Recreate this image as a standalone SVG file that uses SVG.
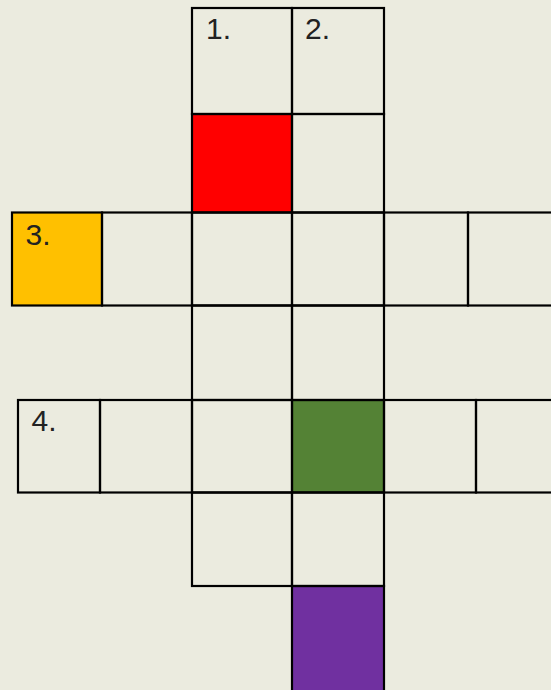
<svg xmlns="http://www.w3.org/2000/svg" width="551" height="690" viewBox="0 0 551 690">
<style>
.c{fill:none;stroke:#000;stroke-width:2.2}
.t{font-family:"Liberation Sans",Arial,sans-serif;font-size:30px;fill:#222}
</style>
<rect width="551" height="690" fill="#EBEBDF"/>
<g id="fills">
<rect x="192" y="114" width="100" height="98" fill="#FF0000"/>
<rect x="12" y="212.5" width="90" height="93" fill="#FFC000"/>
<rect x="292" y="400" width="92" height="92.5" fill="#548235"/>
<rect x="292" y="586" width="92" height="110" fill="#7030A0"/>
</g>
<g id="col1">
<rect class="c" x="192" y="8" width="100" height="106"/>
<rect class="c" x="192" y="114" width="100" height="98.5"/>
<rect class="c" x="192" y="305.5" width="100" height="94.5"/>
<rect class="c" x="192" y="492.5" width="100" height="93.5"/>
</g>
<g id="col2">
<rect class="c" x="292" y="8" width="92" height="106"/>
<rect class="c" x="292" y="114" width="92" height="98.5"/>
<rect class="c" x="292" y="305.5" width="92" height="94.5"/>
<rect class="c" x="292" y="492.5" width="92" height="93.5"/>
<rect class="c" x="292" y="586" width="92" height="110"/>
</g>
<g id="row3">
<rect class="c" x="12" y="212.5" width="90" height="93"/>
<rect class="c" x="102" y="212.5" width="90" height="93"/>
<rect class="c" x="192" y="212.5" width="100" height="93"/>
<rect class="c" x="292" y="212.5" width="92" height="93"/>
<rect class="c" x="384" y="212.5" width="84" height="93"/>
<rect class="c" x="468" y="212.5" width="90" height="93"/>
</g>
<g id="row5">
<rect class="c" x="18" y="400" width="82" height="92.5"/>
<rect class="c" x="100" y="400" width="92" height="92.5"/>
<rect class="c" x="192" y="400" width="100" height="92.5"/>
<rect class="c" x="292" y="400" width="92" height="92.5"/>
<rect class="c" x="384" y="400" width="92" height="92.5"/>
<rect class="c" x="476" y="400" width="90" height="92.5"/>
</g>
<g id="labels">
<text class="t" x="206" y="38.5">1.</text>
<text class="t" x="305" y="38.5">2.</text>
<text class="t" x="25.5" y="244.5">3.</text>
<text class="t" x="31.5" y="431">4.</text>
</g>
</svg>
